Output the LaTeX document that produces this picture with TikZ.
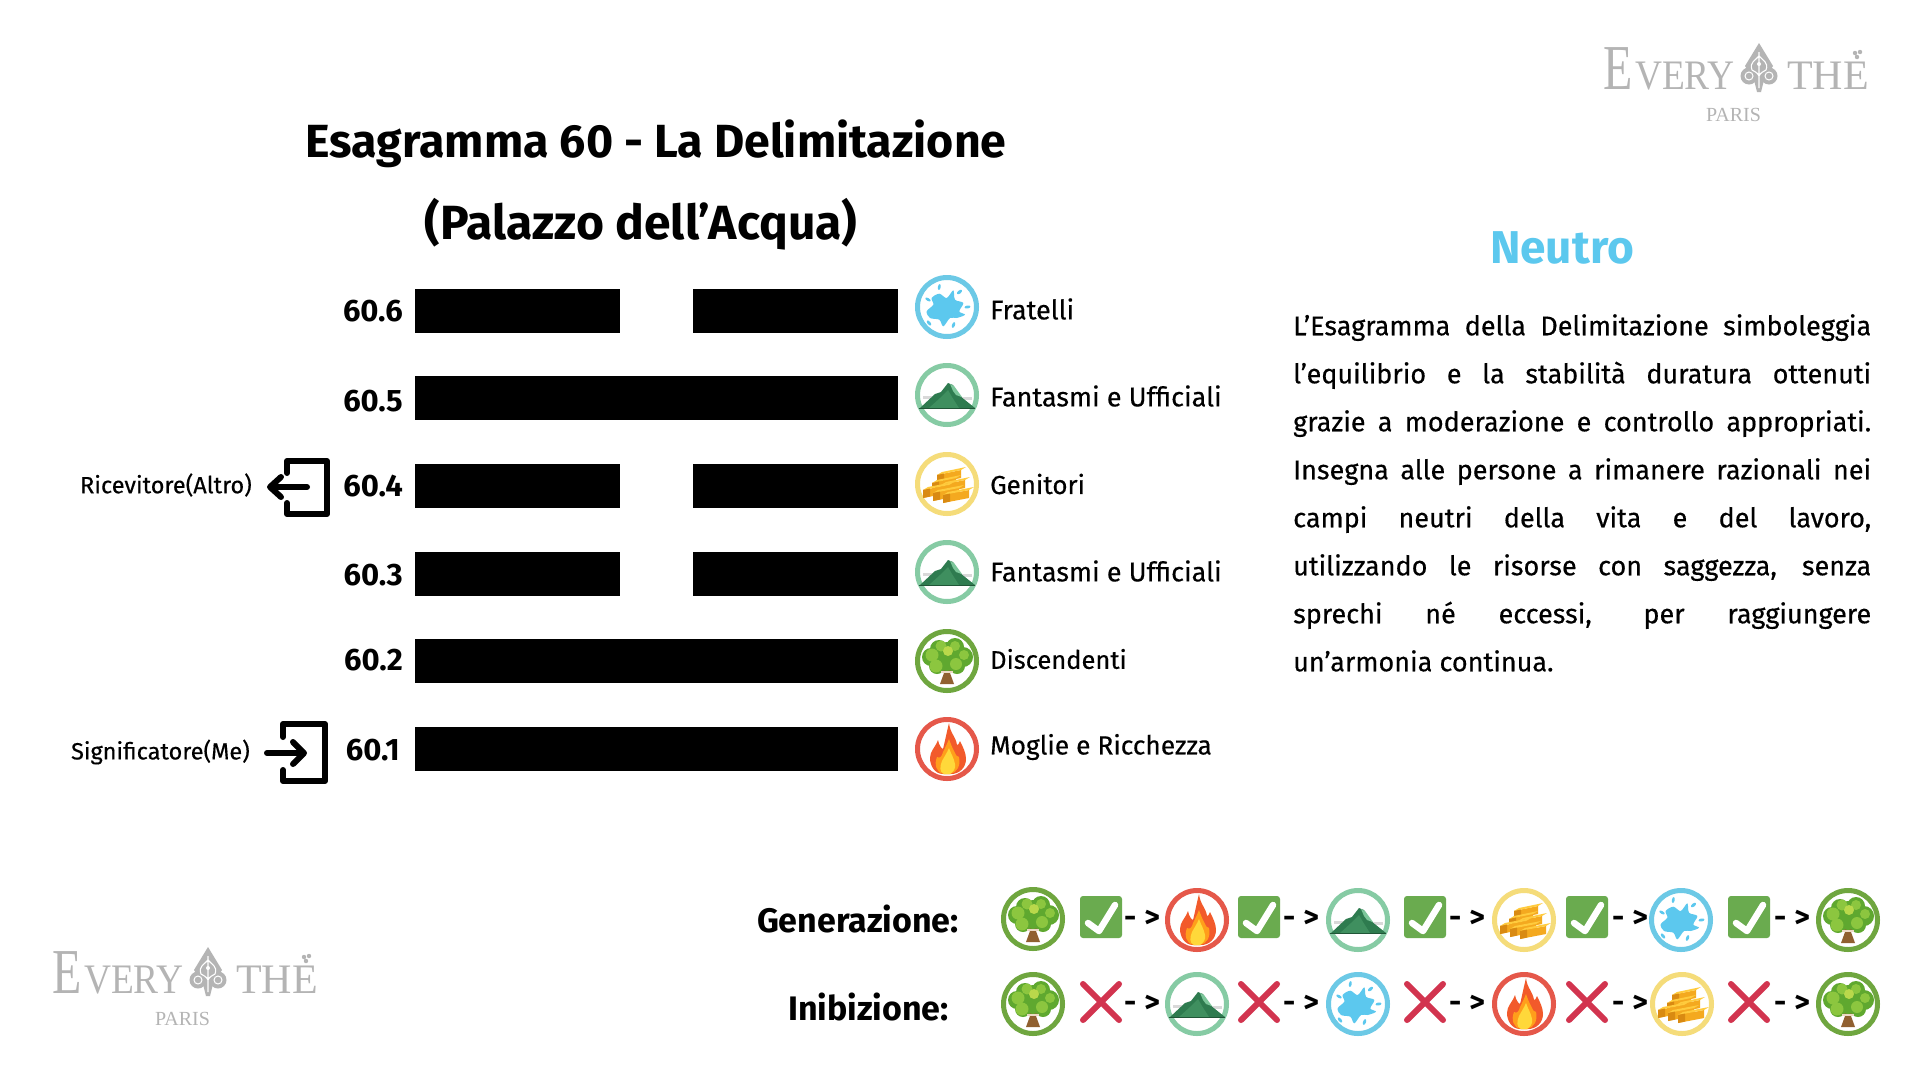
\documentclass[tikz,border=0pt]{standalone}
\usepackage{fontspec}
\setmainfont{Fira Sans}
\newfontfamily\medfont{Fira Sans}[FakeBold=0.4]
\newfontfamily\logofont{Liberation Serif}
\definecolor{cwater}{HTML}{6CC9E6}
\definecolor{cwaterf}{HTML}{5CC8EE}
\definecolor{cmount}{HTML}{86CBA4}
\definecolor{cgold}{HTML}{F5DC7A}
\definecolor{ctree}{HTML}{6FA63F}
\definecolor{cfire}{HTML}{E5584A}
\definecolor{logogray}{HTML}{B4B4B4}
\definecolor{okgreen}{HTML}{6AAB4F}
\definecolor{nored}{HTML}{D2344F}
\definecolor{mdark}{HTML}{2E7B4F}
\definecolor{mmid}{HTML}{3F8F5F}
\definecolor{mlight}{HTML}{7CC69A}
\definecolor{glight}{HTML}{FFCB3D}
\definecolor{gmid}{HTML}{F4A91F}
\definecolor{gdark}{HTML}{D98A12}
\definecolor{tmid}{HTML}{5FA82F}
\definecolor{tlight}{HTML}{8CC63F}
\definecolor{thigh}{HTML}{B9D84B}
\definecolor{F1}{HTML}{F25A2B}
\definecolor{F2}{HTML}{FF9E1B}
\definecolor{F3}{HTML}{FFD83A}
\tikzset{
  x=1pt,y=-1pt,
  bar/.style={fill=black,draw=none,inner sep=0pt,minimum height=44,anchor=west},
  ringw/.style={circle,draw=cwater,line width=5pt,minimum size=59,inner sep=0pt,fill=white},
  ringm/.style={ringw,draw=cmount},
  ringg/.style={ringw,draw=cgold},
  ringt/.style={ringw,draw=ctree},
  ringf/.style={ringw,draw=cfire},
  rowlabel/.style={font=\fontsize{31}{34}\selectfont\bfseries,anchor=east,inner sep=0pt},
  kin/.style={font=\medfont\fontsize{27}{30}\selectfont,anchor=west,inner sep=0pt},
  side/.style={font=\medfont\fontsize{23.5}{26}\selectfont,anchor=east,inner sep=0pt},
  heading/.style={font=\fontsize{46.5}{50}\selectfont\bfseries,inner sep=0pt},
  rel/.style={font=\fontsize{34}{36}\selectfont\bfseries,inner sep=0pt,anchor=east},
  arrowtext/.style={font=\fontsize{30}{32}\selectfont\bfseries,inner sep=0pt},
  iconline/.style={line width=6pt,line join=round,line cap=round},
  pics/watericon/.style={code={
    \fill[cwaterf] plot[smooth cycle,tension=0.55] coordinates {(-7.7,-13.3)(-.3,-9)(6.3,-16.7)(8,-7.3)(16.3,-4)(12.3,4.3)(18,7.7)(9.7,11)(3,11)(-3.7,19.3)(-7.7,12.7)(-17,11)(-20.3,4.3)(-13.7,-2.3)(-15.3,-9)};
    \foreach \a/\b/\r/\t in {-7.7/-20/1.4/80,12.5/-15/1.6/40,20.5/0/1.5/10,-19/-7.5/1.4/150,-18/16/1.5/130,6.5/18/1.5/70}{\fill[cwaterf,rotate around={\t:(\a,\b)}] (\a,\b) ellipse[x radius=3,y radius=\r];}
  }},
  pics/mounticon/.style={code={
    \fill[gray!30] (-24,1) rectangle (-11,4);
    \fill[gray!30] (13,2) rectangle (25,5);
    \fill[mdark] (-27,13) -- (-12,-1) -- (-6,-3) -- (1,-12) -- (6,-10) -- (13,1) -- (28,13) -- cycle;
    \fill[mlight] (3,-11) -- (7,-9) -- (15,2) -- (9,0) -- (6,-4) -- cycle;
    \fill[mmid] (-18,13) -- (-7,3) -- (1,-5) -- (5,2) -- (12,13) -- cycle;
    \draw[mdark!70!black,line width=1pt] (-28,13) -- (28,13);
  }},
  pics/goldicon/.style={code={
    \foreach \a/\b/\L in {-10/-9/24,-15/-1/24,-6/1/24,-24/6/26,-14/9/26,-4/11/26}{
      \fill[gmid] (\a,\b) -- (\a+\L,\b-5) -- (\a+\L,\b+3) -- (\a,\b+8) -- cycle;
      \fill[glight] (\a,\b) -- (\a+5,\b-3) -- (\a+5+\L,\b-8) -- (\a+\L,\b-5) -- cycle;
      \fill[gdark] (\a,\b) -- (\a+7,\b-1.5) -- (\a+7,\b+6.5) -- (\a,\b+8) -- cycle;
    }
  }},
  pics/treeicon/.style={code={
    \fill[brown!75!black] (-7,23) -- (-3,12) -- (-5,6) -- (5,6) -- (3,12) -- (7,23) -- cycle;
    \foreach \a/\b/\r in {-16/-4/9,16/-4/10,-8/-12/9,8/-14/9,0/-8/11,-10/5/8,10/5/8,0/3/7}{\fill[tmid] (\a,\b) circle[radius=\r];}
    \foreach \a/\b/\r in {-15/-6/6.5,-6/-15/5.5,8/-15/5,-11/5/6.5,9/3/6,17/-6/5}{\fill[tlight] (\a,\b) circle[radius=\r];}
    \fill[thigh] (1,-10) circle[radius=5];
    \fill[white!70!brown] (-6,10) rectangle (6,12);
  }},
  pics/fireicon/.style={code={
    \fill[F1] (-4,25) .. controls (-12,25) and (-17,17) .. (-17,9) .. controls (-17,2) and (-12,-1) .. (-9,-9) .. controls (-8,-4) and (-6,-1) .. (-4,0) .. controls (-2,-8) and (0,-18) .. (2,-26) .. controls (3,-16) and (9,-12) .. (10,-4) .. controls (11,-3) and (12,-6) .. (13,-8) .. controls (16,-2) and (19,4) .. (19,10) .. controls (19,19) and (12,25) .. (4,25) -- cycle;
    \fill[F2] (-3,25) .. controls (-11,24) and (-13,15) .. (-10,8) .. controls (-7,10) and (-5,7) .. (-4,3) .. controls (-2,-1) and (0,-5) .. (2,-10) .. controls (4,-4) and (6,0) .. (8,4) .. controls (9,6) and (10,8) .. (12,8) .. controls (14,16) and (10,24) .. (3,25) -- cycle;
    \fill[F3] (-3,25) .. controls (-8,23) and (-7,17) .. (-5,12) .. controls (-3,8) and (0,4) .. (2,-1) .. controls (4,5) and (7,9) .. (8,15) .. controls (9,20) and (6,23) .. (3,25) -- cycle;
  }},
  pics/okbox/.style={code={
    \fill[okgreen,rounded corners=3pt] (-21,-21) rectangle (21,21);
    \draw[white,line width=6.5pt,line cap=round,line join=round] (-13,6) -- (-2,14) -- (14,-12);
  }},
  pics/nocross/.style={code={
    \draw[nored,line width=6pt,line cap=round] (-18,-18) -- (18,18) (-18,18) -- (18,-18);
  }},
  pics/logo/.style={code={
    \node[anchor=base west,inner sep=0pt,text=logogray,font=\logofont\fontsize{64}{64}\selectfont] (-e) at (1603,89) {\scalebox{0.75}[1]{E}};
    \node[anchor=base east,inner sep=0pt,text=logogray,font=\logofont\fontsize{42}{42}\selectfont] (-very) at (1735,89) {\scalebox{0.89}[1]{VERY}};
    \node[anchor=base west,inner sep=0pt,text=logogray,font=\logofont\fontsize{42}{42}\selectfont] (-the) at (1787,89) {THE};
    \node[inner sep=0pt,text=logogray,font=\logofont\fontsize{20}{20}\selectfont] (-paris) at (1733.5,115) {PARIS};
    \fill[logogray] (1759,43) -- (1773,66) -- (1764,80) -- (1761,92) -- (1757,92) -- (1754,80) -- (1745,66) -- cycle;
    \fill[logogray] (1749,76) circle[radius=8.5] (1769,76) circle[radius=8.5];
    \draw[white,line width=1.1pt] (1759,52) -- (1759,88) (1752,70) .. controls (1749,62) and (1756,60) .. (1759,56) .. controls (1762,60) and (1769,62) .. (1766,70) (1752,70) .. controls (1755,72) and (1757,72) .. (1759,76) .. controls (1761,72) and (1763,72) .. (1766,70);
    \draw[white,line width=1pt] (1749,76) circle[radius=4] (1769,76) circle[radius=4];
    \fill[white] (1759,64) circle[radius=2];
    \fill[logogray] (1855,53) circle[radius=2.2] (1860,52) circle[radius=2.2] (1857,57) circle[radius=2.2];
  }}
}
\begin{document}
\begin{tikzpicture}
\useasboundingbox (0,0) rectangle (1920,1080);
\fill[white] (0,0) rectangle (1920,1080);

% logos
\pic (logoa) at (0,0) {logo};
\pic (logob) at (-1551,904) {logo};

% title
\node[heading] (title1) at (656,144) {Esagramma 60 - La Delimitazione};
\node[heading,font=\fontsize{48}{50}\selectfont\bfseries] (title2) at (641,224) {(Palazzo dell’Acqua)};
\node[font=\fontsize{46}{50}\selectfont\bfseries,text=cwaterf,inner sep=0pt] (neutro) at (1562,248) {Neutro};

% bars
\foreach \n/\y in {6/310.5,4/486,3/573.5}{
  \node[bar,minimum width=205] (b\n l) at (415,\y) {};
  \node[bar,minimum width=205] (b\n r) at (692.5,\y) {};
}
\foreach \n/\y in {5/398,2/661,1/749}{
  \node[bar,minimum width=482.5] (b\n) at (415,\y) {};
}

% line numbers
\node[rowlabel] (n6) at (403,311) {60.6};
\node[rowlabel] (n5) at (403,401) {60.5};
\node[rowlabel] (n4) at (403,486) {60.4};
\node[rowlabel] (n3) at (403,575) {60.3};
\node[rowlabel] (n2) at (403,660) {60.2};
\node[rowlabel] (n1) at (400,750) {60.1};

% side labels and icons
\node[side] (rec) at (252,485) {Ricevitore(Altro)};
\node[side] (sig) at (250,752) {Significatore(Me)};
\draw[iconline] (287,473) -- (287,461) -- (327,461) -- (327,514) -- (287,514) -- (287,503);
\draw[iconline] (307,487) -- (271,487);
\draw[iconline] (281,477) -- (270,487) -- (281,497);
\draw[iconline] (283,737) -- (283,724) -- (325,724) -- (325,781) -- (283,781) -- (283,770);
\draw[iconline] (267,753) -- (302,753);
\draw[iconline] (293,742) -- (304,753) -- (293,764);

% element column
\node[ringw] (k6) at (947,307) {}; \pic at (k6) {watericon};
\node[ringm] (k5) at (947,395) {}; \pic at (k5) {mounticon};
\node[ringg] (k4) at (947,484) {}; \pic at (k4) {goldicon};
\node[ringm] (k3) at (947,572) {}; \pic at (k3) {mounticon};
\node[ringt] (k2) at (947,661) {}; \pic at (k2) {treeicon};
\node[ringf] (k1) at (947,749) {}; \pic at (k1) {fireicon};
\node[kin] (t6) at (990,309) {Fratelli};
\node[kin] (t5) at (990,396) {Fantasmi e Ufficiali};
\node[kin,font=\medfont\fontsize{26}{30}\selectfont] (t4) at (990,484) {Genitori};
\node[kin] (t3) at (990,571) {Fantasmi e Ufficiali};
\node[kin,font=\medfont\fontsize{25.5}{30}\selectfont] (t2) at (990,659) {Discendenti};
\node[kin,font=\medfont\fontsize{26.3}{30}\selectfont] (t1) at (990,747) {Moglie e Ricchezza};

% paragraph
\node[anchor=north west,inner sep=0pt,text width=578pt,align=justify,font=\medfont\fontsize{27}{48}\selectfont] (para) at (1293,314) {L’Esagramma della Delimitazione simboleggia\linebreak l’equilibrio e la stabilità duratura ottenuti\linebreak grazie a moderazione e controllo appropriati.\linebreak Insegna alle persone a rimanere razionali nei\linebreak campi neutri della vita e del lavoro,\linebreak utilizzando le risorse con saggezza, senza\linebreak sprechi né eccessi, per raggiungere\linebreak un’armonia continua.};

% cycles
\node[rel] (gen) at (959,919) {Generazione:};
\node[rel] (ini) at (949,1007) {Inibizione:};
\node[ringt] (g1) at (1033,919) {}; \pic at (g1) {treeicon};
\node[ringf] (g2) at (1197,920) {}; \pic at (g2) {fireicon};
\node[ringm] (g3) at (1358,920) {}; \pic at (g3) {mounticon};
\node[ringg] (g4) at (1524,920) {}; \pic at (g4) {goldicon};
\node[ringw] (g5) at (1681,920) {}; \pic at (g5) {watericon};
\node[ringt] (g6) at (1848,920) {}; \pic at (g6) {treeicon};
\node[ringt] (i1) at (1033,1004) {}; \pic at (i1) {treeicon};
\node[ringm] (i2) at (1197,1004) {}; \pic at (i2) {mounticon};
\node[ringw] (i3) at (1358,1004) {}; \pic at (i3) {watericon};
\node[ringf] (i4) at (1524,1004) {}; \pic at (i4) {fireicon};
\node[ringg] (i5) at (1682,1004) {}; \pic at (i5) {goldicon};
\node[ringt] (i6) at (1848,1004) {}; \pic at (i6) {treeicon};
\foreach \x [count=\i] in {1101,1259,1425,1587,1749}{
  \pic at (\x,917) {okbox};
  \pic at (\x,1002) {nocross};
}
\foreach \x [count=\i] in {1142,1301,1467,1630,1792}{
  \node[arrowtext] (ga\i) at (\x,919) {-\kern8pt>};
  \node[arrowtext] (ia\i) at (\x,1004) {-\kern8pt>};
}
\end{tikzpicture}
\end{document}
